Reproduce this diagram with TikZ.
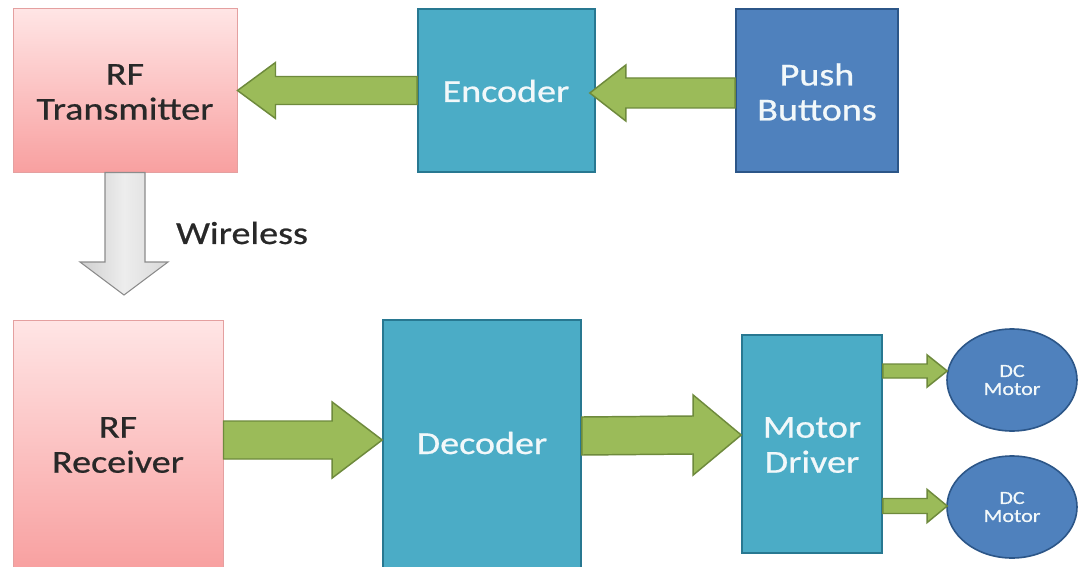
\documentclass[tikz,border=0pt]{standalone}
\usepackage{fontspec}
\setmainfont{Carlito}[FakeStretch=1.19,FakeBold=0.7]
\usetikzlibrary{fit,calc,shapes.geometric}
\definecolor{pinktop}{RGB}{255,229,229}
\definecolor{pinkbot}{RGB}{248,160,160}
\definecolor{pinkedge}{RGB}{228,160,160}
\definecolor{aqua}{RGB}{75,172,198}
\definecolor{aquaedge}{RGB}{40,120,145}
\definecolor{steel}{RGB}{79,129,189}
\definecolor{steeledge}{RGB}{44,86,136}
\definecolor{leaf}{RGB}{155,187,89}
\definecolor{leafedge}{RGB}{110,138,60}
\definecolor{darktext}{RGB}{40,40,40}
\definecolor{lighttext}{RGB}{242,248,250}
\definecolor{greyedge}{RGB}{140,140,140}
\newcommand\fatarrow[6]{%
  \draw[#6] ($(#1)+(0,-#3)$) -- ($(#2)+(#5,-#3)$) -- ($(#2)+(#5,-#4)$) -- (#2)
    -- ($(#2)+(#5,#4)$) -- ($(#2)+(#5,#3)$) -- ($(#1)+(0,#3)$) -- cycle;}
\begin{document}
\begin{tikzpicture}[x=0.75pt,y=-0.75pt,
  bigtext/.style={font=\fontsize{24}{26.25}\selectfont, align=center},
  pinkbox/.style={inner sep=0pt, draw=pinkedge, line width=0.75pt,
    top color=pinktop, bottom color=pinkbot},
  aquabox/.style={inner sep=0pt, draw=aquaedge, line width=1.2pt, fill=aqua},
  steelbox/.style={inner sep=0pt, draw=steeledge, line width=1.2pt, fill=steel},
  darklabel/.style={bigtext, text=darktext},
  lightlabel/.style={bigtext, text=lighttext},
  motor/.style={ellipse, inner sep=0pt, minimum width=97.5pt, minimum height=76.5pt,
    draw=steeledge, line width=1.2pt, fill=steel, text=lighttext,
    font=\fontsize{13.9}{13.5}\selectfont, align=center},
  greenarrow/.style={fill=leaf, draw=leafedge, line width=1.1pt, line join=miter},
  greyarrow/.style={left color=gray!38, right color=gray!30, middle color=gray!14,
    draw=greyedge, line width=0.8pt}]
\useasboundingbox (0,0) rectangle (1078,567);
\clip (0,0) rectangle (1078,567);
\fill[white] (0,0) rectangle (1078,567);
% boxes
\node[pinkbox, fit={(13,9) (237,172)}] (tx) {};
\node[darklabel] (txt) at (125,92) {RF\\Transmitter};
\node[aquabox, fit={(418,9) (595,172)}] (enc) {};
\node[lightlabel] (enct) at (506,91) {Encoder};
\node[steelbox, fit={(736,9) (898,172)}] (pb) {};
\node[lightlabel] (pbt) at (817,92) {Push\\Buttons};
\node[pinkbox, fit={(13,320) (223,570)}] (rx) {};
\node[darklabel] (rxt) at (118,445) {RF\\Receiver};
\node[aquabox, fit={(383,320) (581,570)}] (dec) {};
\node[lightlabel] (dect) at (482,443) {Decoder};
\node[aquabox, fit={(742,335) (882,553)}] (md) {};
\node[lightlabel] (mdt) at (812,445) {Motor\\Driver};
\node[motor] (m1) at (1012,380) {DC\\Motor};
\node[motor] (m2) at (1012,507) {DC\\Motor};
% arrow end points
\coordinate (a2s) at ($(pb.west)+(0,2.5)$);
\coordinate (a2t) at ($(enc.east)+(-6,2.5)$);
\coordinate (a3s) at ($(rx.east)+(0,-5)$);
\coordinate (a3t) at ($(dec.west)+(0,-5)$);
\coordinate (a4s) at ($(dec.east)+(0,-9)$);
\coordinate (a4t) at ($(md.west)+(0,-9)$);
\coordinate (a5s) at ($(md.east)+(0,-73)$);
\coordinate (a5t) at ($(m1.west)+(1,-9)$);
\coordinate (a6s) at ($(md.east)+(0,62)$);
\coordinate (a6t) at ($(m2.west)+(1,-1)$);
% green arrows
\fatarrow{enc.west}{tx.east}{14}{28}{38}{greenarrow}
\fatarrow{a2s}{a2t}{15}{28}{36}{greenarrow}
\fatarrow{a3s}{a3t}{19}{38}{-50}{greenarrow}
\fatarrow{a4s}{a4t}{19}{40}{-48}{greenarrow}
\fatarrow{a5s}{a5t}{7}{16}{-20}{greenarrow}
\fatarrow{a6s}{a6t}{7.5}{16.5}{-20}{greenarrow}
% wireless arrow
\coordinate (wtip) at (124,295);
\draw[greyarrow] ($(tx.south)+(-20,0)$) -- ($(wtip)+(-19,-33)$) -- ($(wtip)+(-44,-33)$)
  -- (wtip) -- ($(wtip)+(44,-33)$) -- ($(wtip)+(21,-33)$) -- ($(tx.south)+(20,0)$) -- cycle;
\node[darklabel] (wl) at (242,233) {Wireless};
\end{tikzpicture}
\end{document}
